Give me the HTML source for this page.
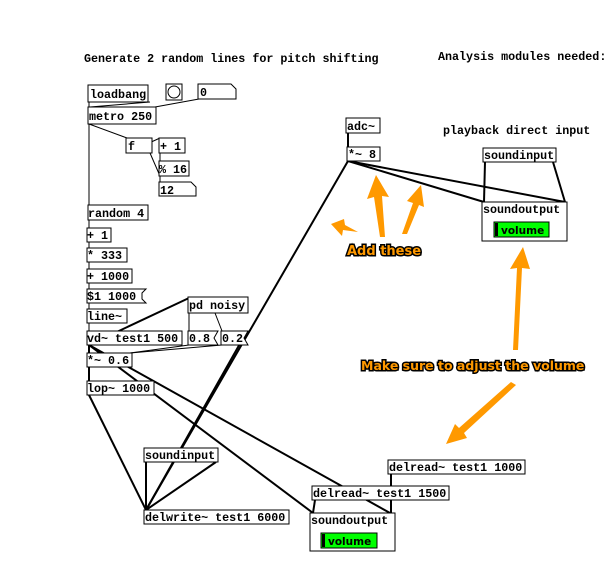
<!DOCTYPE html>
<html><head><style>
body{margin:0;background:#fff;width:609px;height:578px;overflow:hidden}
svg text{font-family:"Liberation Mono",monospace;font-weight:bold;font-size:11.7px;fill:#000}
.b{fill:#fff;stroke:#000;stroke-width:1}
.o{font-family:"DejaVu Sans","Liberation Sans",sans-serif!important;font-size:13px!important;fill:#f90!important;stroke:#000;stroke-width:3px;paint-order:stroke;font-weight:bold}
</style></head><body>
<svg width="609" height="578" viewBox="0 0 609 578" xmlns="http://www.w3.org/2000/svg">
<text x="84" y="62">Generate 2 random lines for pitch shifting</text>
<text x="438" y="60">Analysis modules needed:</text>
<text x="443" y="134">playback direct input</text>
<g stroke="#000" stroke-width="1" fill="none">
<line x1="89" y1="124" x2="89" y2="205"/>
<line x1="89" y1="124" x2="127" y2="138"/>
<line x1="89" y1="102" x2="89" y2="107"/>
<line x1="150" y1="102" x2="90" y2="107"/>
<line x1="199" y1="99" x2="155" y2="107"/>
<line x1="127" y1="153" x2="160" y2="138"/>
<line x1="150" y1="153" x2="160" y2="176"/>
<line x1="160" y1="153" x2="160" y2="161"/>
<line x1="160" y1="176" x2="160" y2="182"/>
<line x1="89" y1="220" x2="89" y2="228"/>
<line x1="89" y1="242" x2="89" y2="248"/>
<line x1="89" y1="262" x2="89" y2="269"/>
<line x1="89" y1="283" x2="89" y2="289"/>
<line x1="89" y1="303" x2="89" y2="309"/>
<line x1="89" y1="323" x2="89" y2="331"/>
<line x1="189" y1="313" x2="189" y2="331"/>
<line x1="215" y1="313" x2="222" y2="331"/>
<line x1="189" y1="345" x2="130" y2="353"/>
<line x1="222" y1="345" x2="130" y2="353"/>
</g>
<g stroke="#000" stroke-width="2" fill="none">
<line x1="89" y1="345" x2="89" y2="353"/>
<line x1="89" y1="367" x2="89" y2="381"/>
<line x1="89" y1="345" x2="189" y2="298"/>
<line x1="89" y1="345" x2="313" y2="513"/>
<line x1="89" y1="345" x2="390" y2="513"/>
<line x1="89" y1="395" x2="146" y2="510"/>
<line x1="146" y1="510" x2="246" y2="333"/>
<line x1="146" y1="510" x2="348" y2="161"/>
<line x1="146" y1="462" x2="146" y2="510"/>
<line x1="216" y1="462" x2="146" y2="510"/>
<line x1="348" y1="133" x2="348" y2="147"/>
<line x1="348" y1="161" x2="484" y2="202"/>
<line x1="348" y1="161" x2="565" y2="202"/>
<line x1="485" y1="162" x2="484" y2="202"/>
<line x1="553" y1="162" x2="565" y2="202"/>
<line x1="391" y1="474" x2="391" y2="513"/>
<line x1="315" y1="500" x2="313" y2="513"/>
</g>
<g>
<rect class="b" x="88" y="85" width="60" height="17"/><text x="90" y="98">loadbang</text>
<rect class="b" x="166" y="84" width="16" height="16"/><circle cx="174" cy="92" r="6" fill="#fff" stroke="#000"/>
<path class="b" d="M198 84H231L236 89V99H198Z"/><text x="200" y="96">0</text>
<rect class="b" x="88" y="107" width="68" height="17"/><text x="89" y="120">metro 250</text>
<rect class="b" x="126" y="138" width="26" height="15"/><text x="128" y="150">f</text>
<rect class="b" x="159" y="138" width="26" height="15"/><text x="160" y="150">+ 1</text>
<rect class="b" x="159" y="161" width="30" height="15"/><text x="159" y="173">% 16</text>
<path class="b" d="M159 182H191L196 187V196H159Z"/><text x="160" y="194">12</text>
<rect class="b" x="88" y="205" width="60" height="15"/><text x="88" y="217">random 4</text>
<rect class="b" x="87" y="228" width="24" height="14"/><text x="87" y="239">+ 1</text>
<rect class="b" x="87" y="248" width="40" height="14"/><text x="87" y="259">* 333</text>
<rect class="b" x="87" y="269" width="45" height="14"/><text x="87" y="280">+ 1000</text>
<path class="b" d="M87 289H146L142 293V299L146 303H87Z"/><text x="87" y="300">$1 1000</text>
<rect class="b" x="87" y="309" width="40" height="14"/><text x="87" y="320">line~</text>
<rect class="b" x="188" y="297" width="60" height="16"/><text x="189" y="309">pd noisy</text>
<rect class="b" x="87" y="331" width="95" height="14"/><text x="87" y="342">vd~ test1 500</text>
<path class="b" d="M188 331H218L214 338L218 345H188Z"/><text x="189" y="342">0.8</text>
<path class="b" d="M221 331H248L244 338L248 345H221Z"/><text x="222" y="342">0.2</text>
<rect class="b" x="87" y="353" width="45" height="14"/><text x="87" y="364">*~ 0.6</text>
<rect class="b" x="87" y="381" width="67" height="14"/><text x="87" y="392">lop~ 1000</text>
<rect class="b" x="346" y="118" width="34" height="15"/><text x="347" y="130">adc~</text>
<rect class="b" x="347" y="147" width="33" height="14"/><text x="348" y="158">*~ 8</text>
<rect class="b" x="483" y="148" width="73" height="14"/><text x="484" y="159">soundinput</text>
<rect class="b" x="482" y="202" width="85" height="39"/><text x="483" y="213">soundoutput</text>
<rect x="494" y="222" width="55" height="15" fill="#0f0" stroke="#000"/><rect x="495" y="223" width="3" height="13" fill="#000"/><text x="501" y="234" style="font-family:'DejaVu Sans',sans-serif;font-size:10.5px">volume</text>
<rect class="b" x="144" y="448" width="74" height="14"/><text x="145" y="459">soundinput</text>
<rect class="b" x="144" y="510" width="145" height="14"/><text x="145" y="521">delwrite~ test1 6000</text>
<rect class="b" x="388" y="460" width="137" height="14"/><text x="389" y="471">delread~ test1 1000</text>
<rect class="b" x="312" y="486" width="137" height="14"/><text x="313" y="497">delread~ test1 1500</text>
<rect class="b" x="310" y="513" width="85" height="38"/><text x="311" y="524">soundoutput</text>
<rect x="321" y="533" width="56" height="15" fill="#0f0" stroke="#000"/><rect x="322" y="534" width="3" height="13" fill="#000"/><text x="328" y="545" style="font-family:'DejaVu Sans',sans-serif;font-size:10.5px">volume</text>
</g>
<g fill="#f90">
<polygon points="331,224 344,219 345,225 358,232 343,230 342,236"/>
<polygon points="376,175 367,199 374,197 380,237 385,237 382,196 389,197"/>
<polygon points="421,185 407,201 413,203 402,234 407,234 419,205 424,207"/>
<polygon points="523,247 510,269 517,268 513,350 518,350 522,268 530,269"/>
<polygon points="446,444 467,438 464,433 516,385 511,382 459,428 455,424"/>
</g>
<text class="o" x="347" y="255">Add these</text>
<text class="o" x="361" y="370" style="font-size:12.5px!important">Make sure to adjust the volume</text>
</svg>
</body></html>
